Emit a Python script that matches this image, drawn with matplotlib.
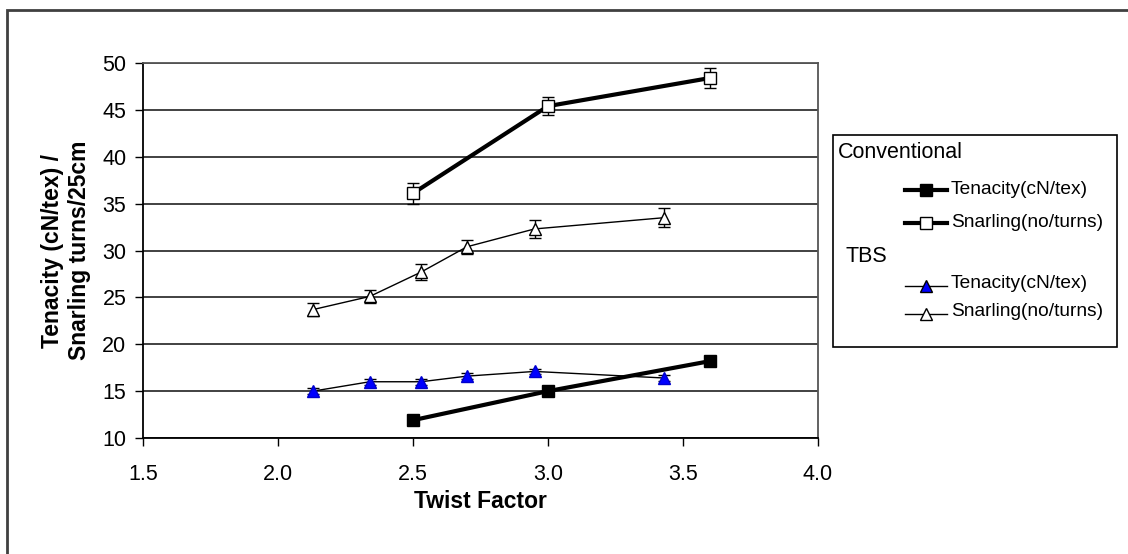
import numpy as np
import matplotlib.pyplot as plt
from matplotlib.lines import Line2D
from matplotlib.patches import Rectangle

plt.rcParams['font.family'] = ['Liberation Sans', 'DejaVu Sans']

# ---------- data ----------
conv_tf = [2.5, 3.0, 3.6]
conv_ten = [11.9, 15.0, 18.2]
conv_ten_err = [0.2, 0.2, 0.2]
conv_snarl = [36.1, 45.4, 48.4]
conv_snarl_err = [1.1, 0.95, 1.05]

tbs_tf = [2.13, 2.34, 2.53, 2.70, 2.95, 3.43]
tbs_ten = [15.0, 16.0, 16.0, 16.6, 17.1, 16.4]
tbs_ten_err = [0.3, 0.3, 0.3, 0.3, 0.3, 0.3]
tbs_snarl = [23.7, 25.1, 27.7, 30.4, 32.3, 33.5]
tbs_snarl_err = [0.67, 0.67, 0.83, 0.75, 1.0, 1.0]

xticks = [1.5, 2.0, 2.5, 3.0, 3.5, 4.0]
yticks = [10, 15, 20, 25, 30, 35, 40, 45, 50]

W, H = 1128, 554
fig = plt.figure(figsize=(W / 100, H / 100), dpi=100)


def fx(x):
    return x / W


def fy(y):
    return 1 - y / H


# outer chart frame (only top/left visible in the picture)
fig.patches.append(Rectangle((fx(7), fy(600)), fx(1200), fy(10) - fy(600),
                             transform=fig.transFigure, fill=False,
                             ec='#404040', lw=2))

ax = fig.add_axes([fx(143), fy(438), fx(818) - fx(143), fy(63) - fy(438)])

ax.errorbar(tbs_tf, tbs_snarl, yerr=tbs_snarl_err, color='black', lw=1,
            marker='^', ms=9, mfc='white', mec='black', mew=1,
            ecolor='black', elinewidth=1, capsize=4, zorder=3)
ax.errorbar(tbs_tf, tbs_ten, yerr=tbs_ten_err, color='black', lw=1,
            marker='^', ms=9, mfc='#0000ff', mec='#0000cc', mew=1,
            ecolor='black', elinewidth=1, capsize=4, zorder=3)
ax.errorbar(conv_tf, conv_snarl, yerr=conv_snarl_err, color='black', lw=3,
            marker='s', ms=8, mfc='white', mec='black', mew=1,
            ecolor='black', elinewidth=1, capsize=4, zorder=4)
ax.errorbar(conv_tf, conv_ten, yerr=conv_ten_err, color='black', lw=3,
            marker='s', ms=8, mfc='black', mec='black', mew=1,
            ecolor='black', elinewidth=1, capsize=4, zorder=4)

ax.set_xlim(1.5, 4.0)
ax.set_ylim(10, 50)
ax.set_xticks(xticks)
ax.set_xticklabels([f'{v:.1f}' for v in xticks])
ax.set_yticks(yticks)
ax.yaxis.grid(True, color='#333333', lw=1.3)
ax.set_axisbelow(True)
ax.tick_params(direction='out', length=6, width=1, labelsize=15.5,
               colors='black')
ax.tick_params(axis='x', pad=13)
ax.tick_params(axis='y', pad=6)
for s in ['top', 'right']:
    ax.spines[s].set_color('#555555')
    ax.spines[s].set_linewidth(1.3)
for s in ['left', 'bottom']:
    ax.spines[s].set_linewidth(1.3)

ax.set_xlabel('Twist Factor', fontsize=16.5, fontweight='bold', labelpad=3)
ax.set_ylabel('Tenacity (cN/tex) /\nSnarling turns/25cm', fontsize=16.5,
              fontweight='bold', labelpad=8, linespacing=1.25)

# ---------- legend box ----------
fig.patches.append(Rectangle((fx(833), fy(347)), fx(1117) - fx(833),
                             fy(135) - fy(347), transform=fig.transFigure,
                             fill=False, ec='black', lw=1.2))
fig.text(fx(838), fy(153), 'Conventional', fontsize=15.5, va='center')
fig.text(fx(845), fy(257), 'TBS', fontsize=15.5, va='center')

entries = [
    (190, 3, 's', 'black', 'Tenacity(cN/tex)'),
    (223, 3, 's', 'white', 'Snarling(no/turns)'),
    (286, 1, '^', '#0000ff', 'Tenacity(cN/tex)'),
    (314, 1, '^', 'white', 'Snarling(no/turns)'),
]
for yy, lw, mk, fc, lab in entries:
    fig.add_artist(Line2D([fx(905), fx(947)], [fy(yy), fy(yy)], color='black',
                          lw=lw, transform=fig.transFigure))
    fig.add_artist(Line2D([fx(926)], [fy(yy)], marker=mk, ms=8 if mk == 's' else 9,
                          mfc=fc, mec='black', mew=1, ls='none',
                          transform=fig.transFigure))
    fig.text(fx(951), fy(yy - 3 if lw == 1 else yy), lab, fontsize=13.8,
             va='center')

fig.savefig('out.png', dpi=100)
